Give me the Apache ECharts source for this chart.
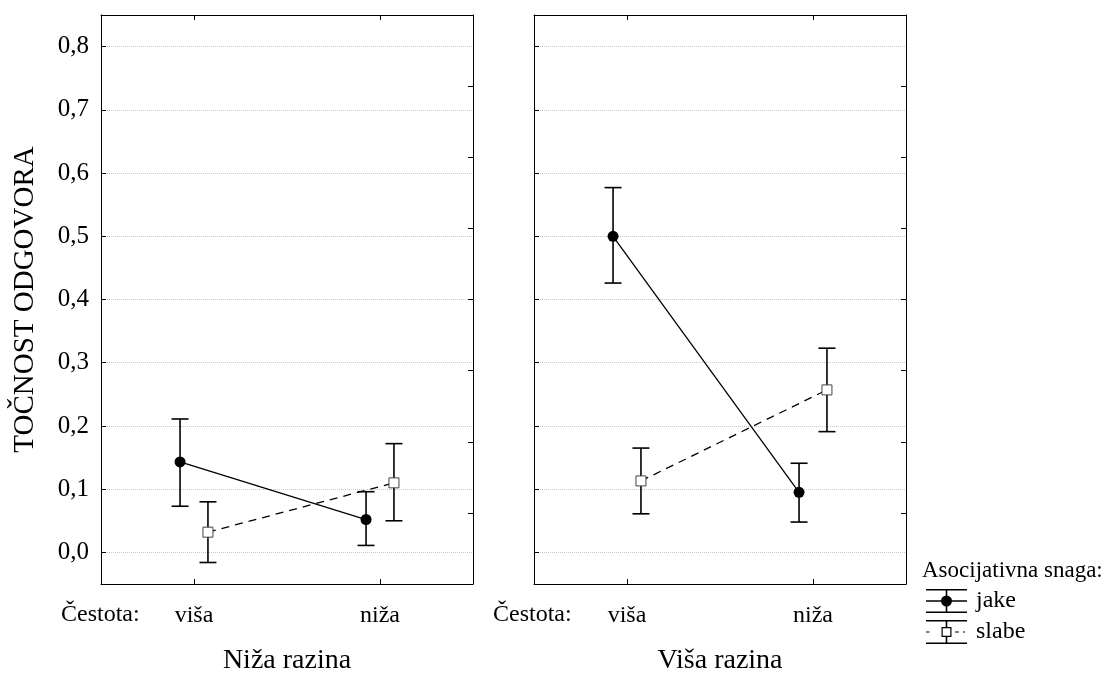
<!DOCTYPE html>
<html>
<head>
<meta charset="utf-8">
<script src="https://cdn.jsdelivr.net/npm/echarts@6/dist/echarts.min.js"></script>
<style>
  html, body { margin: 0; padding: 0; background: #fff; }
  #chart { width: 1113px; height: 680px; }
</style>
</head>
<body>
<div id="chart"></div>
<script>
// data: [panel][frequency]
const categories = ['viša', 'niža'];
const panelNames = ['Niža razina', 'Viša razina'];
const groupNames = ['jake', 'slabe'];

const jakeMean = [[0.143, 0.052], [0.500, 0.095]];
const jakeLow = [[0.073, 0.011], [0.426, 0.048]];
const jakeHigh = [[0.211, 0.096], [0.577, 0.141]];

const slabeMean = [[0.032, 0.110], [0.113, 0.257]];
const slabeLow = [[-0.016, 0.050], [0.061, 0.191]];
const slabeHigh = [[0.080, 0.172], [0.165, 0.323]];

const yMin = -0.05, yMax = 0.85;

const font = '"Liberation Serif", "Times New Roman", serif';
const dodge = 0.075;   // side shift of the two groups around a category
const capHalf = 8.5;   // half width of the error bar caps, px

const chart = echarts.init(document.getElementById('chart'));

function renderErrorBar(params, api) {
    const hi = api.coord([api.value(0), api.value(2)]);
    const lo = api.coord([api.value(0), api.value(1)]);
    const style = { stroke: '#000', lineWidth: 1.6 };
    return {
        type: 'group',
        children: [
            { type: 'line', shape: { x1: hi[0], y1: hi[1], x2: lo[0], y2: lo[1] }, style },
            { type: 'line', shape: { x1: hi[0] - capHalf, y1: hi[1], x2: hi[0] + capHalf, y2: hi[1] }, style },
            { type: 'line', shape: { x1: lo[0] - capHalf, y1: lo[1], x2: lo[0] + capHalf, y2: lo[1] }, style }
        ]
    };
}

// legend icons: error bar with marker (all parts wound clockwise, the square's hole the other way)
const jakeIcon = 'path://M0 0H41V1.6H0Z M0 22.4H41V24H0Z M19.7 0H21.3V24H19.7Z M0 11.2H41V12.8H0Z ' +
    'M15 12A5.5 5.5 0 1 1 26 12A5.5 5.5 0 1 1 15 12Z';
const slabeIcon = 'path://M0 0H41V1.6H0Z M0 22.4H41V24H0Z M19.7 1.6H21.3V7H19.7Z M19.7 17H21.3V22.4H19.7Z ' +
    'M15.5 7H25.5V17H15.5Z M16.7 8.2V15.8H24.3V8.2Z ' +
    'M0 11.4H3.5V12.6H0Z M29 11.4H33V12.6H29Z M37 11.4H39V12.6H37Z';

const grids = [];
const xAxes = [];
const yAxes = [];
const series = [];

panelNames.forEach((panel, p) => {
    grids.push({ left: p === 0 ? 101 : 534, top: 15, width: 372, height: 575 });

    const frameLine = { show: true, onZero: false, lineStyle: { color: '#000', width: 1 } };
    const innerTick = { show: true, inside: true, length: 5, lineStyle: { color: '#000', width: 1 } };

    xAxes.push({
        gridIndex: p,
        type: 'category',
        data: categories,
        position: 'bottom',
        boundaryGap: true,
        axisLine: frameLine,
        axisTick: Object.assign({ alignWithLabel: true }, innerTick),
        axisLabel: { color: '#000', fontFamily: font, fontSize: 24, margin: 20 },
        name: panel,
        nameLocation: 'middle',
        nameGap: 63,
        nameTextStyle: { color: '#000', fontFamily: font, fontSize: 28 }
    }, {
        gridIndex: p,
        type: 'category',
        data: categories,
        position: 'top',
        boundaryGap: true,
        axisLine: frameLine,
        axisTick: Object.assign({ alignWithLabel: true }, innerTick),
        axisLabel: { show: false }
    }, {
        gridIndex: p,
        type: 'value',
        min: 0,
        max: 2,
        show: false
    });

    yAxes.push({
        gridIndex: p,
        type: 'value',
        position: 'left',
        min: yMin,
        max: yMax,
        splitNumber: 9,
        axisLine: frameLine,
        axisTick: innerTick,
        axisLabel: {
            show: p === 0,
            color: '#000',
            fontFamily: font,
            fontSize: 25,
            margin: 12,
            formatter: v => Math.abs(v * 10 - Math.round(v * 10)) < 1e-6 ? v.toFixed(1).replace('.', ',') : ''
        },
        splitLine: { show: true, lineStyle: { color: '#c8c8c8', type: 'dotted', width: 1 } },
        name: p === 0 ? 'TOČNOST ODGOVORA' : '',
        nameLocation: 'middle',
        nameGap: 61,
        nameTextStyle: { color: '#000', fontFamily: font, fontSize: 29 }
    }, {
        gridIndex: p,
        type: 'value',
        position: 'right',
        min: 0,
        max: 8,
        interval: 1,
        axisLine: frameLine,
        axisTick: innerTick,
        axisLabel: { show: false },
        splitLine: { show: false }
    });

    const xIdx = 3 * p + 2;
    const yIdx = 2 * p;
    const jakeX = categories.map((c, i) => i + 0.5 - dodge);
    const slabeX = categories.map((c, i) => i + 0.5 + dodge);

    series.push({
        type: 'custom',
        name: 'jake',
        xAxisIndex: xIdx,
        yAxisIndex: yIdx,
        renderItem: renderErrorBar,
        encode: { x: 0, y: [1, 2] },
        data: categories.map((c, i) => [jakeX[i], jakeLow[p][i], jakeHigh[p][i]])
    }, {
        type: 'custom',
        name: 'slabe',
        xAxisIndex: xIdx,
        yAxisIndex: yIdx,
        renderItem: renderErrorBar,
        encode: { x: 0, y: [1, 2] },
        data: categories.map((c, i) => [slabeX[i], slabeLow[p][i], slabeHigh[p][i]])
    }, {
        type: 'line',
        name: 'jake',
        xAxisIndex: xIdx,
        yAxisIndex: yIdx,
        symbol: 'circle',
        symbolSize: 11,
        itemStyle: { color: '#000' },
        lineStyle: { color: '#000', width: 1.3 },
        data: categories.map((c, i) => [jakeX[i], jakeMean[p][i]])
    }, {
        type: 'line',
        name: 'slabe',
        xAxisIndex: xIdx,
        yAxisIndex: yIdx,
        symbol: 'rect',
        symbolSize: 10,
        itemStyle: { color: '#fff', borderColor: '#444', borderWidth: 1 },
        lineStyle: { color: '#000', width: 1.3, type: [8, 6] },
        data: categories.map((c, i) => [slabeX[i], slabeMean[p][i]])
    });
});

const option = {
    animation: false,
    backgroundColor: '#fff',
    grid: grids,
    xAxis: xAxes,
    yAxis: yAxes,
    series: series,
    legend: {
        orient: 'vertical',
        left: 926,
        top: 589,
        padding: 0,
        itemWidth: 41,
        itemHeight: 24,
        itemGap: 7,
        selectedMode: false,
        textStyle: { color: '#000', fontFamily: font, fontSize: 24, padding: [0, 0, 0, 4] },
        data: groupNames.map((n, k) => ({
            name: n,
            icon: k === 0 ? jakeIcon : slabeIcon,
            itemStyle: { color: '#000', borderWidth: 0 }
        }))
    },
    graphic: [
        { type: 'text', left: 61, top: 603, style: { text: 'Čestota:', font: '24px ' + font, fill: '#000' } },
        { type: 'text', left: 493, top: 603, style: { text: 'Čestota:', font: '24px ' + font, fill: '#000' } },
        { type: 'text', left: 922, top: 559, style: { text: 'Asocijativna snaga:', font: '23px ' + font, fill: '#000' } }
    ]
};

chart.setOption(option);
</script>
</body>
</html>
